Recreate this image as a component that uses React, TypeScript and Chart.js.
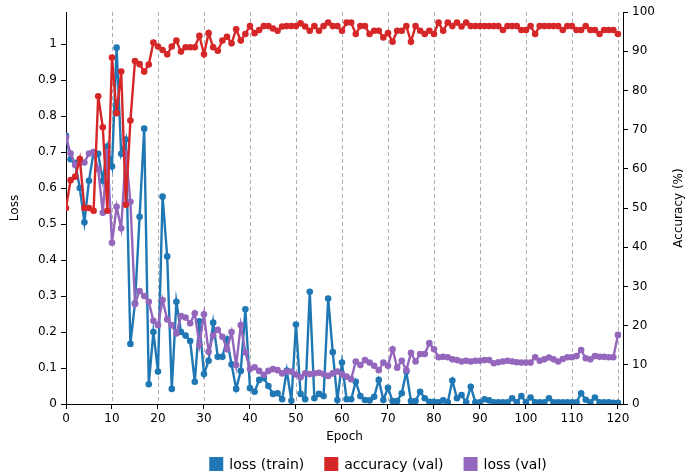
import React, { useEffect, useRef } from 'react';
import { Chart, registerables } from 'chart.js';

Chart.register(...registerables);

const epochs = Array.from({ length: 121 }, (_, i) => i);

const lossTrain = [
  0.745, 0.68, 0.67, 0.6, 0.505, 0.62, 0.7, 0.695, 0.62, 0.715,
  0.66, 0.99, 0.695, 0.735, 0.167, 0.28, 0.52, 0.765, 0.055, 0.2,
  0.09, 0.576, 0.41, 0.042, 0.284, 0.2, 0.19, 0.175, 0.062, 0.23,
  0.083, 0.12, 0.226, 0.131, 0.131, 0.18, 0.11, 0.042, 0.092, 0.263,
  0.044, 0.034, 0.067, 0.072, 0.05, 0.028, 0.03, 0.013, 0.093, 0.009,
  0.221, 0.028, 0.013, 0.312, 0.016, 0.028, 0.022, 0.293, 0.144, 0.011,
  0.115, 0.013, 0.013, 0.062, 0.022, 0.011, 0.01, 0.02, 0.067, 0.011,
  0.045, 0.008, 0.008, 0.03, 0.09, 0.008, 0.008, 0.034, 0.016, 0.006,
  0.006, 0.005, 0.01, 0.005, 0.065, 0.016, 0.025, 0.005, 0.048, 0.005,
  0.005, 0.013, 0.01, 0.005, 0.005, 0.005, 0.005, 0.016, 0.005, 0.022,
  0.005, 0.018, 0.005, 0.005, 0.005, 0.016, 0.005, 0.005, 0.005, 0.005,
  0.005, 0.005, 0.03, 0.012, 0.005, 0.018, 0.005, 0.005, 0.005, 0.003,
  0.003,
];

const accuracyVal = [
  50, 57.1, 58, 62.5, 50, 50, 49.3, 78.5, 70.6, 49.3,
  88.4, 74.2, 84.8, 50.8, 72.3, 87.5, 86.7, 84.8, 86.6, 92.2,
  91.2, 90.3, 89.2, 91.2, 92.7, 89.9, 91, 91, 91, 93.9,
  89.2, 94.6, 91, 90.1, 92.7, 93.7, 92, 95.6, 92.7, 94.4,
  96.4, 94.6, 95.4, 96.4, 96.4, 95.8, 95.2, 96.3, 96.4, 96.4,
  96.4, 97.1, 96.3, 95.2, 96.4, 95.2, 96.4, 97.3, 96.4, 96.4,
  95.2, 97.3, 97.3, 94.4, 96.4, 96.4, 94.4, 95.2, 95.2, 93.5,
  94.6, 92.4, 95.2, 95.2, 96.4, 92.4, 96.4, 95.2, 94.4, 95.2,
  94.4, 97.3, 95.2, 97.3, 96.4, 97.3, 96.3, 97.3, 96.4, 96.4,
  96.4, 96.4, 96.4, 96.4, 96.4, 95.4, 96.4, 96.4, 96.4, 95.4,
  95.4, 96.4, 94.4, 96.4, 96.4, 96.4, 96.4, 96.4, 95.4, 96.4,
  96.4, 95.4, 95.4, 96.4, 95.4, 95.4, 94.4, 95.4, 95.4, 95.4,
  94.4,
];

const lossVal = [
  0.74, 0.696, 0.664, 0.67, 0.671, 0.696, 0.7, 0.652, 0.531, 0.7,
  0.448, 0.548, 0.488, 0.696, 0.562, 0.278, 0.314, 0.3, 0.284, 0.231,
  0.219, 0.289, 0.235, 0.219, 0.196, 0.244, 0.24, 0.224, 0.252, 0.164,
  0.249, 0.145, 0.19, 0.206, 0.187, 0.152, 0.2, 0.108, 0.219, 0.143,
  0.097, 0.102, 0.092, 0.081, 0.092, 0.097, 0.094, 0.085, 0.09, 0.09,
  0.082, 0.074, 0.085, 0.083, 0.085, 0.087, 0.083, 0.078, 0.085, 0.09,
  0.083, 0.076, 0.069, 0.118, 0.108, 0.122, 0.115, 0.106, 0.094, 0.115,
  0.106, 0.152, 0.101, 0.12, 0.094, 0.142, 0.118, 0.139, 0.139, 0.169,
  0.152, 0.13, 0.131, 0.13, 0.124, 0.122, 0.118, 0.12, 0.118, 0.12,
  0.12, 0.122, 0.122, 0.113, 0.116, 0.118, 0.12, 0.118, 0.116, 0.115,
  0.115, 0.115, 0.13, 0.12, 0.124, 0.129, 0.124, 0.118, 0.125, 0.13,
  0.13, 0.133, 0.15, 0.127, 0.124, 0.133, 0.131, 0.131, 0.13, 0.13,
  0.192,
];

const seriesLabels = ['loss (train)', 'accuracy (val)', 'loss (val)'];
const seriesColors = ['#1f77b4', '#d62728', '#9467bd'];
const xTitle = 'Epoch';
const yLeftTitle = 'Loss';
const yRightTitle = 'Accuracy (%)';

const FONT = "'DejaVu Sans', sans-serif";

const overlayPlugin = {
  id: 'overlay',
  beforeDatasetsDraw(chart: any) {
    const { ctx, chartArea, scales } = chart;
    const xs = scales.x;
    ctx.save();
    ctx.strokeStyle = '#b0b0b0';
    ctx.lineWidth = 1;
    ctx.setLineDash([4, 3]);
    for (const t of xs.ticks) {
      if (t.value === 0) continue;
      const px = Math.round(xs.getPixelForValue(t.value)) + 0.5;
      ctx.beginPath();
      ctx.moveTo(px, chartArea.top);
      ctx.lineTo(px, chartArea.bottom);
      ctx.stroke();
    }
    ctx.restore();
  },
  afterDraw(chart: any) {
    const { ctx, chartArea } = chart;
    ctx.save();
    // right axis title, reading bottom to top
    ctx.fillStyle = '#000';
    ctx.font = `12px ${FONT}`;
    ctx.textAlign = 'center';
    ctx.textBaseline = 'middle';
    ctx.translate(679, (chartArea.top + chartArea.bottom) / 2);
    ctx.rotate(-Math.PI / 2);
    ctx.fillText(yRightTitle, 0, 0);
    ctx.restore();

    // legend
    ctx.save();
    ctx.font = `14px ${FONT}`;
    const box = 14;
    const gapText = 6;
    const gapItem = 20;
    const items = chart.data.datasets.map((d: any) => ({
      label: d.label,
      color: d.borderColor,
      w: ctx.measureText(d.label).width,
    }));
    const total = items.reduce((s: number, it: any) => s + box + gapText + it.w, 0) + gapItem * (items.length - 1);
    let x = 378 - total / 2;
    const cy = 464;
    ctx.textAlign = 'left';
    ctx.textBaseline = 'middle';
    for (const it of items) {
      ctx.fillStyle = it.color;
      ctx.fillRect(x, cy - box / 2, box, box);
      x += box + gapText;
      ctx.fillStyle = '#000';
      ctx.fillText(it.label, x, cy + 1);
      x += it.w + gapItem;
    }
    ctx.restore();
  },
};

export default function App() {
  const ref = useRef<HTMLCanvasElement | null>(null);
  useEffect(() => {
    document.body.style.margin = '0';
    const canvas = ref.current;
    if (!canvas) return;
    const tickFont = { family: FONT, size: 12 };
    const mk = (i: number, data: number[], axis: string, order: number) => ({
      label: seriesLabels[i],
      data,
      yAxisID: axis,
      borderColor: seriesColors[i],
      backgroundColor: seriesColors[i],
      pointBackgroundColor: seriesColors[i],
      pointBorderWidth: 0,
      pointRadius: 3.3,
      pointHoverRadius: 3.3,
      borderWidth: 2.4,
      tension: 0,
      order,
    });
    const chart = new Chart(canvas, {
      type: 'line',
      data: {
        labels: epochs,
        datasets: [
          mk(0, lossTrain, 'y', 2),
          mk(1, accuracyVal, 'y1', 0),
          mk(2, lossVal, 'y', 1),
        ],
      },
      options: {
        animation: false,
        responsive: false,
        devicePixelRatio: 1,
        layout: { padding: { top: 12, bottom: 32, left: 0, right: 0 } },
        plugins: { legend: { display: false }, tooltip: { enabled: false } },
        scales: {
          x: {
            type: 'linear',
            min: 0,
            max: 121.1,
            ticks: {
              stepSize: 10,
              includeBounds: false,
              autoSkip: false,
              maxRotation: 0,
              padding: 3,
              color: '#000',
              font: tickFont,
            },
            grid: { drawOnChartArea: false, drawTicks: true, tickLength: 5, tickColor: '#000', tickWidth: 1 },
            border: { color: '#000', width: 1 },
            title: { display: true, text: xTitle, color: '#000', font: tickFont, padding: { top: 0, bottom: 0 } },
            afterFit: (s: any) => { s.height = 40; },
          },
          y: {
            type: 'linear',
            position: 'left',
            min: 0,
            max: 1.089,
            ticks: {
              stepSize: 0.1,
              includeBounds: false,
              padding: 4,
              color: '#000',
              font: tickFont,
              callback: (v: any) => String(Math.round(Number(v) * 10) / 10),
            },
            grid: { drawOnChartArea: false, drawTicks: true, tickLength: 5, tickColor: '#000', tickWidth: 1 },
            border: { color: '#000', width: 1 },
            title: { display: true, text: yLeftTitle, color: '#000', font: tickFont, padding: { top: 8, bottom: 0 } },
            afterFit: (s: any) => { s.width = 66; },
          },
          y1: {
            type: 'linear',
            position: 'right',
            min: 0,
            max: 100,
            ticks: {
              stepSize: 10,
              includeBounds: false,
              padding: 4,
              color: '#000',
              font: tickFont,
            },
            grid: { drawOnChartArea: false, drawTicks: true, tickLength: 5, tickColor: '#000', tickWidth: 1 },
            border: { color: '#000', width: 1 },
            afterFit: (s: any) => { s.width = 63; },
          },
        },
      },
      plugins: [overlayPlugin],
    } as any);
    return () => chart.destroy();
  }, []);
  return (
    <div style={{ width: 686, height: 476 }}>
      <canvas ref={ref} width={686} height={476} style={{ display: 'block' }} />
    </div>
  );
}
